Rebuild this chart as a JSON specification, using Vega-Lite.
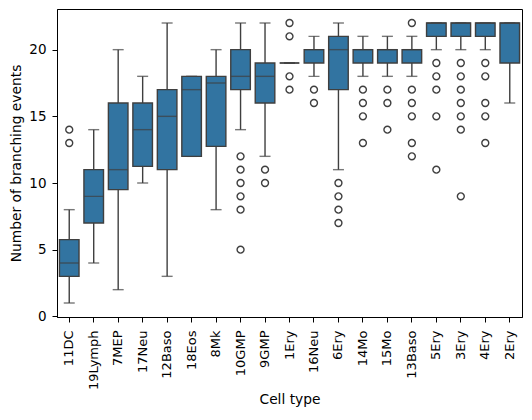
{
  "$schema": "https://vega.github.io/schema/vega-lite/v6.json",
  "autosize": {"type": "none"},
  "width": 465,
  "height": 308,
  "padding": {"left": 57, "top": 9, "right": 10, "bottom": 95},
  "background": "white",
  "config": {
    "font": "DejaVu Sans",
    "view": {"stroke": "black", "strokeWidth": 1},
    "axis": {
      "labelFont": "DejaVu Sans", "titleFont": "DejaVu Sans",
      "labelFontSize": 13.5, "titleFontSize": 13.8, "titleFontWeight": "normal",
      "labelColor": "black", "titleColor": "black",
      "tickColor": "black", "domainColor": "black", "tickSize": 5,
      "grid": false
    }
  },
  "datasets": {
    "boxes": [
      {"cell": "11DC", "low": 1, "q1": 3, "med": 4, "q3": 5.75, "high": 8},
      {"cell": "19Lymph", "low": 4, "q1": 7, "med": 9, "q3": 11, "high": 14},
      {"cell": "7MEP", "low": 2, "q1": 9.5, "med": 11, "q3": 16, "high": 20},
      {"cell": "17Neu", "low": 10, "q1": 11.25, "med": 14, "q3": 16, "high": 18},
      {"cell": "12Baso", "low": 3, "q1": 11, "med": 15, "q3": 17, "high": 22},
      {"cell": "18Eos", "low": 12, "q1": 12, "med": 17, "q3": 18, "high": 18},
      {"cell": "8Mk", "low": 8, "q1": 12.75, "med": 17.5, "q3": 18, "high": 20},
      {"cell": "10GMP", "low": 14, "q1": 17, "med": 18, "q3": 20, "high": 22},
      {"cell": "9GMP", "low": 12, "q1": 16, "med": 18, "q3": 19, "high": 22},
      {"cell": "1Ery", "low": 19, "q1": 19, "med": 19, "q3": 19, "high": 19},
      {"cell": "16Neu", "low": 18, "q1": 19, "med": 20, "q3": 20, "high": 21},
      {"cell": "6Ery", "low": 11, "q1": 17, "med": 20, "q3": 21, "high": 22},
      {"cell": "14Mo", "low": 18, "q1": 19, "med": 20, "q3": 20, "high": 21},
      {"cell": "15Mo", "low": 18, "q1": 19, "med": 20, "q3": 20, "high": 21},
      {"cell": "13Baso", "low": 18, "q1": 19, "med": 20, "q3": 20, "high": 21},
      {"cell": "5Ery", "low": 20, "q1": 21, "med": 22, "q3": 22, "high": 22},
      {"cell": "3Ery", "low": 20, "q1": 21, "med": 22, "q3": 22, "high": 22},
      {"cell": "4Ery", "low": 20, "q1": 21, "med": 22, "q3": 22, "high": 22},
      {"cell": "2Ery", "low": 16, "q1": 19, "med": 22, "q3": 22, "high": 22}
    ],
    "outliers": [
      {"cell": "11DC", "v": 13}, {"cell": "11DC", "v": 14},
      {"cell": "10GMP", "v": 12}, {"cell": "10GMP", "v": 11}, {"cell": "10GMP", "v": 10}, {"cell": "10GMP", "v": 9}, {"cell": "10GMP", "v": 8}, {"cell": "10GMP", "v": 5},
      {"cell": "9GMP", "v": 11}, {"cell": "9GMP", "v": 10},
      {"cell": "1Ery", "v": 22}, {"cell": "1Ery", "v": 21}, {"cell": "1Ery", "v": 18}, {"cell": "1Ery", "v": 17},
      {"cell": "16Neu", "v": 17}, {"cell": "16Neu", "v": 16},
      {"cell": "6Ery", "v": 10}, {"cell": "6Ery", "v": 9}, {"cell": "6Ery", "v": 8}, {"cell": "6Ery", "v": 7},
      {"cell": "14Mo", "v": 17}, {"cell": "14Mo", "v": 16}, {"cell": "14Mo", "v": 15}, {"cell": "14Mo", "v": 13},
      {"cell": "15Mo", "v": 17}, {"cell": "15Mo", "v": 16}, {"cell": "15Mo", "v": 14},
      {"cell": "13Baso", "v": 22}, {"cell": "13Baso", "v": 17}, {"cell": "13Baso", "v": 16}, {"cell": "13Baso", "v": 15}, {"cell": "13Baso", "v": 13}, {"cell": "13Baso", "v": 12},
      {"cell": "5Ery", "v": 19}, {"cell": "5Ery", "v": 18}, {"cell": "5Ery", "v": 17}, {"cell": "5Ery", "v": 15}, {"cell": "5Ery", "v": 11},
      {"cell": "3Ery", "v": 19}, {"cell": "3Ery", "v": 18}, {"cell": "3Ery", "v": 17}, {"cell": "3Ery", "v": 16}, {"cell": "3Ery", "v": 15}, {"cell": "3Ery", "v": 14}, {"cell": "3Ery", "v": 9},
      {"cell": "4Ery", "v": 19}, {"cell": "4Ery", "v": 18}, {"cell": "4Ery", "v": 16}, {"cell": "4Ery", "v": 15}, {"cell": "4Ery", "v": 13}
    ]
  },
  "encoding": {
    "x": {
      "field": "cell", "type": "nominal", "sort": null, "title": "Cell type",
      "scale": {"domain": ["11DC","19Lymph","7MEP","17Neu","12Baso","18Eos","8Mk","10GMP","9GMP","1Ery","16Neu","6Ery","14Mo","15Mo","13Baso","5Ery","3Ery","4Ery","2Ery"], "paddingInner": 0, "paddingOuter": 0},
      "axis": {"labelAngle": -90, "labelAlign": "right", "labelBaseline": "middle", "labelFontSize": 13, "labelPadding": 8, "titlePadding": 3}
    }
  },
  "layer": [
    {
      "data": {"name": "boxes"},
      "mark": {"type": "rule", "color": "#3f3f3f", "strokeWidth": 1.4},
      "encoding": {
        "y": {"field": "low", "type": "quantitative", "scale": {"domain": [-0.05, 23.05], "nice": false, "zero": false},
              "axis": {"values": [0, 5, 10, 15, 20], "title": "Number of branching events", "titlePadding": 5, "labelPadding": 6}},
        "y2": {"field": "high"}
      }
    },
    {
      "data": {"name": "boxes"},
      "mark": {"type": "tick", "color": "#3f3f3f", "thickness": 1.4, "size": 11, "orient": "horizontal"},
      "encoding": {"y": {"field": "low", "type": "quantitative"}}
    },
    {
      "data": {"name": "boxes"},
      "mark": {"type": "tick", "color": "#3f3f3f", "thickness": 1.4, "size": 11, "orient": "horizontal"},
      "encoding": {"y": {"field": "high", "type": "quantitative"}}
    },
    {
      "data": {"name": "boxes"},
      "mark": {"type": "bar", "width": {"band": 0.8}, "fill": "#3274a1", "stroke": "#3f3f3f", "strokeWidth": 1.4},
      "encoding": {"y": {"field": "q1", "type": "quantitative"}, "y2": {"field": "q3"}}
    },
    {
      "data": {"name": "boxes"},
      "mark": {"type": "tick", "color": "#3f3f3f", "thickness": 1.4, "size": 19.6, "orient": "horizontal"},
      "encoding": {"y": {"field": "med", "type": "quantitative"}}
    },
    {
      "data": {"name": "outliers"},
      "mark": {"type": "point", "shape": "circle", "filled": false, "stroke": "#3f3f3f", "strokeWidth": 1.4, "size": 48, "opacity": 1},
      "encoding": {"y": {"field": "v", "type": "quantitative"}}
    }
  ]
}
